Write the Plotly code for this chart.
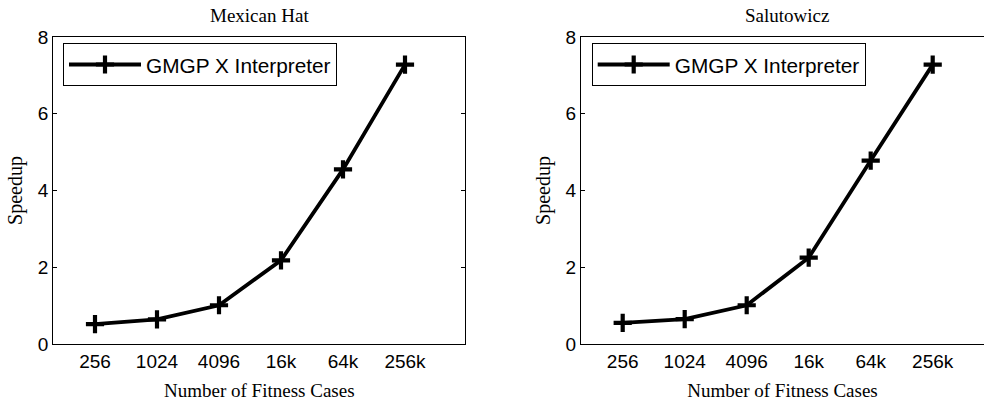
import plotly.graph_objects as go

categories = ["256", "1024", "4096", "16k", "64k", "256k"]
mexican_hat = [0.52, 0.64, 1.01, 2.18, 4.55, 7.28]
salutowicz = [0.55, 0.65, 1.01, 2.25, 4.78, 7.28]
series_name = "GMGP X Interpreter"
titles = ["Mexican Hat", "Salutowicz"]
y_ticks = [0, 2, 4, 6, 8]

W, H = 984, 406
TOP, BOT = 36.5, 344
L1, R1 = 53.3, 465.3
L2 = 581.0
PX_PER_CAT = 62.0
FIRST_TICK_OFFSET = 41.7
PH = BOT - TOP


def py(pix):
    # pixel row -> paper y (relative to the plot area)
    return (BOT - pix) / PH


sans = "Liberation Sans, Arial, sans-serif"
serif = "Liberation Serif, Times New Roman, serif"

fig = go.Figure()
line_style = dict(color="black", width=3.8)
marker_style = dict(symbol="cross-thin", size=13, line=dict(color="black", width=4.2), color="black")

fig.add_trace(go.Scatter(x=categories, y=mexican_hat, mode="lines+markers", name=series_name,
                         line=line_style, marker=marker_style, xaxis="x", yaxis="y", legend="legend"))
fig.add_trace(go.Scatter(x=categories, y=salutowicz, mode="lines+markers", name=series_name,
                         line=line_style, marker=marker_style, xaxis="x2", yaxis="y2", legend="legend2"))

r1_lo = -FIRST_TICK_OFFSET / PX_PER_CAT
r1_hi = r1_lo + (R1 - L1) / PX_PER_CAT
r2_hi = r1_lo + (W - L2) / PX_PER_CAT

common_x = dict(type="category", showline=True, linecolor="black", linewidth=1.2,
                ticks="", showgrid=False, zeroline=False,
                tickfont=dict(family=sans, size=19, color="black"),
                title=dict(text="Number of Fitness Cases", font=dict(family=serif, size=19, color="black"), standoff=12))
common_y = dict(range=[0, 8], tickvals=y_ticks, showline=True, linecolor="black", linewidth=1.2,
                ticks="inside", ticklen=4, tickcolor="black", showgrid=False, zeroline=False,
                tickfont=dict(family=sans, size=19, color="black"),
                title=dict(text="Speedup", font=dict(family=serif, size=20, color="black"), standoff=9))

legend_common = dict(xanchor="left", yanchor="top", bgcolor="white", bordercolor="black", borderwidth=1,
                     font=dict(family=sans, size=20.8, color="black"), itemwidth=72)

fig.update_layout(
    width=W, height=H, autosize=False,
    margin=dict(l=0, r=0, t=TOP, b=H - BOT),
    paper_bgcolor="white", plot_bgcolor="white",
    xaxis=dict(common_x, domain=[L1 / W, R1 / W], range=[r1_lo, r1_hi], mirror=True, anchor="y"),
    yaxis=dict(common_y, domain=[0, 1], mirror="ticks", anchor="x"),
    xaxis2=dict(common_x, domain=[L2 / W, 1.0], range=[r1_lo, r2_hi], mirror=True, anchor="y2"),
    yaxis2=dict(common_y, domain=[0, 1], mirror=False, anchor="x2"),
    legend=dict(legend_common, x=63 / W, y=py(43)),
    legend2=dict(legend_common, x=591.7 / W, y=py(43)),
    showlegend=True,
    annotations=[
        dict(text=titles[0], x=(L1 + R1) / 2 / W, y=py(15), xref="paper", yref="paper",
             showarrow=False, font=dict(family=serif, size=19, color="black"), xanchor="center", yanchor="middle"),
        dict(text=titles[1], x=(L2 + L2 + (R1 - L1)) / 2 / W, y=py(15), xref="paper", yref="paper",
             showarrow=False, font=dict(family=serif, size=19, color="black"), xanchor="center", yanchor="middle"),
    ],
)

fig.write_html("out.html", config={"displayModeBar": False},
               post_script="document.body.style.margin='0';document.documentElement.style.overflow='hidden';")
